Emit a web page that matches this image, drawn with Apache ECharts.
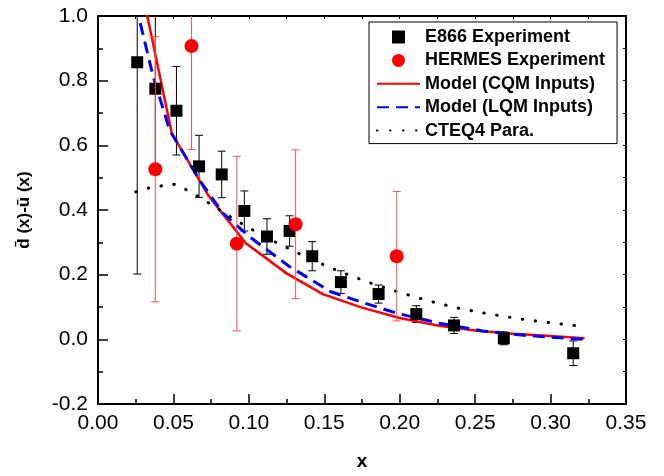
<!DOCTYPE html>
<html><head><meta charset="utf-8">
<script src="https://cdn.jsdelivr.net/npm/echarts@6/dist/echarts.min.js"></script>
<style>html,body{margin:0;padding:0;background:#fff}#c{width:664px;height:476px}</style>
</head><body><div id="c"></div>
<script>
// E866 experiment
const e866X   = [0.026,0.038,0.052,0.067,0.082,0.097,0.112,0.127,0.142,0.161,0.186,0.211,0.236,0.269,0.315];
const e866Y   = [0.857,0.775,0.707,0.535,0.510,0.397,0.318,0.335,0.257,0.177,0.140,0.078,0.043,0.003,-0.043];
const e866Err = [0.655,0.240,0.137,0.096,0.072,0.062,0.055,0.047,0.045,0.035,0.028,0.026,0.025,0.020,0.038];
// HERMES experiment
const hermesX   = [0.038,0.062,0.092,0.131,0.198];
const hermesY   = [0.526,0.907,0.296,0.356,0.257];
const hermesErr = [0.410,0.320,0.270,0.230,0.200];
// Model (CQM inputs)
const cqmX = [0.030,0.049,0.073,0.098,0.125,0.149,0.175,0.200,0.225,0.250,0.275,0.300,0.3225];
const cqmY = [1.060,0.636,0.446,0.297,0.204,0.140,0.098,0.066,0.043,0.027,0.017,0.010,0.003];
// Model (LQM inputs)
const lqmX = [0.028,0.0364,0.0475,0.0674,0.0828,0.1005,0.127,0.154,0.1734,0.198,0.226,0.255,0.284,0.3225];
const lqmY = [0.978,0.816,0.647,0.492,0.390,0.317,0.225,0.148,0.117,0.081,0.050,0.026,0.012,0.000];
// CTEQ4 parametrisation
const cteqX = [0.025,0.035,0.050,0.060,0.070,0.080,0.090,0.100,0.120,0.140,0.160,0.180,0.200,0.220,0.240,0.260,0.280,0.300,0.321];
const cteqY = [0.456,0.470,0.480,0.460,0.432,0.402,0.372,0.345,0.295,0.250,0.210,0.175,0.145,0.118,0.095,0.078,0.063,0.051,0.040];

const xMin = 0, xMax = 0.35, xStep = 0.05;
const yMin = -0.2, yMax = 1.0, yStep = 0.2;
const legendNames = ['E866 Experiment','HERMES Experiment','Model (CQM Inputs)','Model (LQM Inputs)','CTEQ4 Para.'];

const zip = (a,b) => a.map((v,i)=>[v,b[i]]);
const zip3 = (a,b,c) => a.map((v,i)=>[v,b[i],c[i]]);

function errRender(color, capW) {
  return function(params, api) {
    const x = api.value(0), y = api.value(1), e = api.value(2);
    const t = api.coord([x, y + e]), b = api.coord([x, y - e]);
    const h = capW / 2;
    const st = {stroke: color, lineWidth: 1};
    return {type:'group', children:[
      {type:'line', shape:{x1:t[0],y1:t[1],x2:b[0],y2:b[1]}, style:st},
      {type:'line', shape:{x1:t[0]-h,y1:t[1],x2:t[0]+h,y2:t[1]}, style:st},
      {type:'line', shape:{x1:b[0]-h,y1:b[1],x2:b[0]+h,y2:b[1]}, style:st}
    ]};
  };
}

const FONT = 'Liberation Sans, Arial, sans-serif';
const axisLineStyle = {color:'#000', width:2};
const squareIcon = 'path://M0,0L10,0L10,10L0,10Z';

const legendData = legendNames.map((n,i) => {
  if (i === 0) return {name:n, icon:squareIcon};
  if (i === 1) return {name:n, icon:'circle'};
  return {name:n, itemStyle:{opacity:0}};
});

const chart = echarts.init(document.getElementById('c'), null, {renderer:'canvas'});
chart.setOption({
  backgroundColor:'#fff',
  animation:false,
  grid:{left:98, right:38, top:16, bottom:72, containLabel:false},
  legend:{
    data:legendData,
    orient:'vertical',
    left:369, top:22,
    padding:[6,12,4,7],
    itemWidth:43, itemHeight:13, itemGap:5.4,
    symbolKeepAspect:true,
    borderColor:'#000', borderWidth:1,
    backgroundColor:'#fff',
    textStyle:{fontFamily:FONT, fontSize:18, fontWeight:'bold', color:'#000', lineHeight:18}
  },
  xAxis:[{
    type:'value', min:xMin, max:xMax, interval:xStep, position:'bottom',
    name:'x', nameLocation:'middle', nameGap:48,
    nameTextStyle:{fontFamily:FONT, fontSize:19, fontWeight:'bold', color:'#000'},
    axisLine:{show:true, onZero:false, lineStyle:axisLineStyle},
    axisTick:{show:true, inside:true, length:10, lineStyle:{color:'#000', width:1.5}},
    minorTick:{show:true, splitNumber:2, length:5, lineStyle:{color:'#000', width:1.5}},
    splitLine:{show:false},
    axisLabel:{fontFamily:FONT, fontSize:21, color:'#000', margin:9, formatter:v=>v.toFixed(2)}
  },{
    type:'value', min:xMin, max:xMax, interval:xStep, position:'top',
    axisLine:{show:true, onZero:false, lineStyle:axisLineStyle},
    axisTick:{show:true, inside:true, length:3, lineStyle:{color:'#000', width:1}},
    minorTick:{show:true, splitNumber:2, length:3, lineStyle:{color:'#000', width:1}},
    splitLine:{show:false}, axisLabel:{show:false}
  }],
  yAxis:[{
    type:'value', min:yMin, max:yMax, interval:yStep, position:'left',
    name:'d\u0304 (x)-\u016b (x)', nameLocation:'middle', nameGap:65, nameRotate:90,
    nameTextStyle:{fontFamily:FONT, fontSize:17, fontWeight:'bold', color:'#000'},
    axisLine:{show:true, onZero:false, lineStyle:axisLineStyle},
    axisTick:{show:true, inside:true, length:10, lineStyle:{color:'#000', width:1.5}},
    minorTick:{show:true, splitNumber:2, length:5, lineStyle:{color:'#000', width:1.5}},
    splitLine:{show:false},
    axisLabel:{fontFamily:FONT, fontSize:21, color:'#000', margin:10, formatter:v=>v.toFixed(1)}
  },{
    type:'value', min:yMin, max:yMax, interval:yStep, position:'right',
    axisLine:{show:true, onZero:false, lineStyle:axisLineStyle},
    axisTick:{show:true, inside:true, length:3, lineStyle:{color:'#000', width:1}},
    minorTick:{show:true, splitNumber:2, length:3, lineStyle:{color:'#000', width:1}},
    splitLine:{show:false}, axisLabel:{show:false}
  }],
  series:[
    {type:'custom', name:'e866err', renderItem:errRender('#000', 8), data:zip3(e866X,e866Y,e866Err), clip:true, z:2, silent:true},
    {type:'custom', name:'hermeserr', renderItem:errRender('#ff5050', 8), data:zip3(hermesX,hermesY,hermesErr), clip:true, z:6, silent:true},
    {type:'line', name:'Model (CQM Inputs)', data:zip(cqmX,cqmY), symbol:'none', clip:true, z:3,
      lineStyle:{color:'#ff0000', width:2.5}, itemStyle:{color:'#ff0000'}},
    {type:'line', name:'Model (LQM Inputs)', data:zip(lqmX,lqmY), symbol:'none', clip:true, z:3,
      lineStyle:{color:'#0000ff', width:3, type:[12,7]}, itemStyle:{color:'#0000ff'}},
    {type:'line', name:'CTEQ4 Para.', data:zip(cteqX,cteqY), symbol:'none', clip:true, z:3,
      lineStyle:{color:'#000', width:3, type:[0.5,12.5], cap:'round'}, itemStyle:{color:'#000'}},
    {type:'scatter', name:'E866 Experiment', data:zip(e866X,e866Y), symbol:'rect', symbolSize:12, z:5,
      itemStyle:{color:'#000', opacity:1}},
    {type:'scatter', name:'HERMES Experiment', data:zip(hermesX,hermesY), symbol:'circle', symbolSize:14, z:7,
      itemStyle:{color:'#ff0000', opacity:1}}
  ]
});
</script></body></html>
